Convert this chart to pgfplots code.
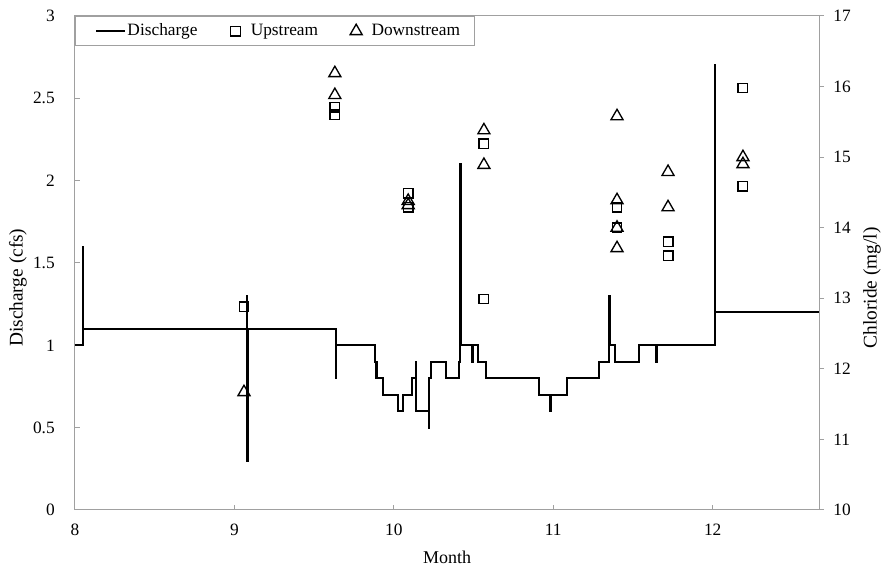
\documentclass[border=0pt]{standalone}
\usepackage{fontspec}
\setmainfont{Liberation Serif}
\usepackage{pgfplots}
\pgfplotsset{compat=1.18}
\definecolor{axgray}{RGB}{160,160,160}
\pgfplotsset{
  lineleg/.style={legend image code/.code={\path[draw=none,fill=none] (0pt,0pt) -- (27.25pt,0pt); \draw[##1] (5.5pt,0pt) -- (27.25pt,0pt);}},
  markleg/.style={legend image code/.code={\path[draw=none,fill=none] (-5pt,0pt) -- (10.5pt,0pt); \draw[##1, only marks] plot coordinates {(0pt,0pt)};}},
}
\begin{document}
\fontsize{13pt}{15pt}\selectfont
\begin{tikzpicture}
\pgfplotsset{
  common/.style={
    scale only axis, width=558pt, height=370.5pt,
    xmin=8, xmax=12.667,
    major tick length=3.75pt,
    every tick/.style={axgray, line width=0.75pt},
    axis line style={axgray, line width=0.75pt},
    /pgf/number format/assume math mode=true,
    tick label style={font=\fontsize{13pt}{15pt}\selectfont},
    ylabel style={font=\fontsize{14.5pt}{16pt}\selectfont},
    xlabel style={font=\fontsize{13.5pt}{15pt}\selectfont},
  }
}
\begin{axis}[common, name=a1,
  ymin=0, ymax=3,
  tick align=inside,
  xtick pos=bottom, ytick pos=left,
  xtick={8,9,10,11,12},
  ytick={0,0.5,1,1.5,2,2.5,3},
  yticklabels={0,0.5,1,1.5,2,2.5,3},
  xticklabel style={yshift=-6.3pt},
  yticklabel style={xshift=-10.7pt},
  xlabel={Month},
  ylabel={Discharge (cfs)},
  xlabel style={at={(axis description cs:0.5,-0.0951)}, anchor=center},
  ylabel style={at={(axis description cs:-0.0766,0.45)}, anchor=center},
]
\addplot[const plot, black, line width=1.5pt] coordinates {
(8.00,1.0) (8.05,1.6) (8.053,1.1)
(9.078,1.3) (9.080,0.3) (9.083,1.1)
(9.636,0.8) (9.640,1.0)
(9.881,0.9) (9.885,0.8) (9.888,0.9) (9.892,0.8)
(9.931,0.7)
(10.025,0.6)
(10.056,0.7)
(10.113,0.8)
(10.138,0.9) (10.142,0.6)
(10.219,0.5) (10.223,0.8) (10.23,0.9)
(10.33,0.8)
(10.41,0.9) (10.415,2.1) (10.419,1.0)
(10.49,0.9) (10.495,1.0)
(10.53,0.9)
(10.58,0.8)
(10.91,0.7)
(10.98,0.6) (10.985,0.7)
(11.085,0.8)
(11.285,0.9)
(11.35,1.3) (11.355,1.0)
(11.39,0.9)
(11.536,1.0)
(11.643,0.9) (11.648,1.0)
(12.013,2.7) (12.017,1.2)
(12.667,1.2)
};
\end{axis}
\begin{axis}[common,
  ymin=10, ymax=17,
  axis x line=none, axis y line*=right,
  tick align=outside,
  ytick={10,11,12,13,14,15,16,17},
  yticklabel style={xshift=2.5pt},
  ylabel={Chloride (mg/l)},
  ylabel style={at={(axis description cs:1.0712,0.45)}, anchor=center},
  legend columns=3,
  legend style={draw=axgray, line width=0.75pt, at={(0,1)}, anchor=north west,
    inner xsep=10pt, inner ysep=4pt,
    nodes={inner xsep=1pt, inner ysep=1.5pt},
    font=\fontsize{13pt}{15pt}\selectfont,
    /tikz/every even column/.append style={column sep=22.5pt}},
  legend cell align=left,
]
\addlegendimage{black, line width=1.5pt, lineleg}
\addlegendentry{Discharge}
\addplot[only marks, mark=square, mark size=3.6pt, mark options={black, line width=1pt}, markleg]
coordinates {
(9.06,12.88) (9.63,15.71) (9.63,15.60) (10.09,14.49) (10.09,14.29)
(10.565,15.19) (10.565,12.99) (11.40,14.29) (11.40,14.00)
(11.72,13.80) (11.72,13.60) (12.19,15.98) (12.19,14.59)
};
\addlegendentry{Upstream}
\addplot[only marks, mark=triangle, mark size=5.2pt, mark options={black, line width=1pt}, markleg]
coordinates {
(9.06,11.67) (9.63,16.19) (9.63,15.88) (10.09,14.38) (10.09,14.32)
(10.565,15.38) (10.565,14.89) (11.40,15.58) (11.40,14.39) (11.40,14.00)
(11.40,13.71) (11.72,14.79) (11.72,14.29) (12.19,15.00) (12.19,14.90)
};
\addlegendentry{Downstream}
\end{axis}
\pgfresetboundingbox
\useasboundingbox (a1.south west) ++(-56.25pt,-45.75pt) rectangle ([xshift=50.25pt,yshift=12pt]a1.north east);
\end{tikzpicture}
\end{document}
